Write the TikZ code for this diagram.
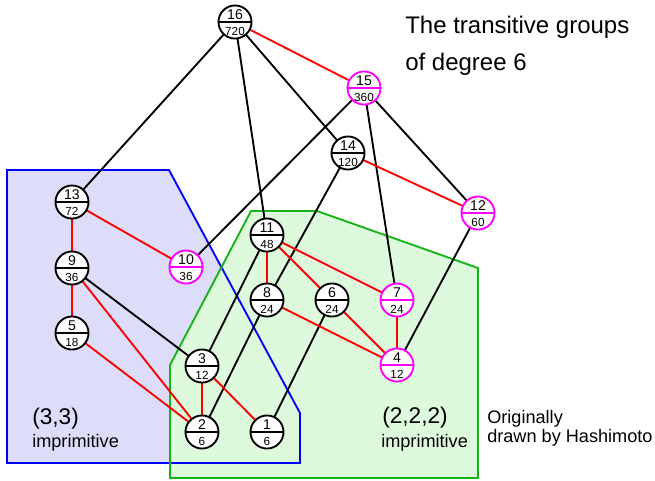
\documentclass[tikz,border=0pt]{standalone}
\usepackage{fontspec}
\setmainfont{Liberation Sans}
\definecolor{mag}{RGB}{255,0,255}
\definecolor{grn}{RGB}{20,180,20}
\definecolor{bfill}{RGB}{221,221,250}
\definecolor{gfill}{RGB}{221,250,221}
\newcommand\gn[6]{%
  \node[gcirc, draw=#6] (#1) at (#2,#3) {};
  \draw[#6, line width=1.4pt] (#1.west) -- (#1.east);
  \node[toplab] at ([yshift=1.6pt]#1.center) {#4};
  \node[botlab] at ([yshift=-10.2pt]#1.center) {#5};
}
\begin{document}
\begin{tikzpicture}[x=0.75pt,y=-0.75pt,
  gcirc/.style={circle, fill=white, line width=1.4pt, minimum size=24.8pt, inner sep=0pt},
  toplab/.style={anchor=base, inner sep=0pt, font=\fontsize{10.6pt}{12pt}\selectfont},
  botlab/.style={anchor=base, inner sep=0pt, font=\fontsize{8.8pt}{10pt}\selectfont},
  blk/.style={black, line width=1.4pt},
  rd/.style={red, line width=1.4pt},
  txt/.style={anchor=base west, inner sep=0pt}]
\useasboundingbox (0,0) rectangle (655,480);
% regions
\fill[bfill] (7,170) -- (169,170) -- (300,413) -- (300,463) -- (7,463) -- cycle;
\fill[gfill] (170,365) -- (251,211) -- (317,211) -- (478,268) -- (478,478) -- (170,478) -- cycle;
\draw[blue, line width=1.4pt] (7,170) -- (169,170) -- (300,413) -- (300,463) -- (7,463) -- cycle;
\draw[grn, line width=1.4pt] (170,365) -- (251,211) -- (317,211) -- (478,268) -- (478,478) -- (170,478) -- cycle;
% node coordinates
\coordinate (c16) at (235,22);
\coordinate (c15) at (364,88);
\coordinate (c14) at (348,153);
\coordinate (c12) at (478,213);
\coordinate (c13) at (72,202);
\coordinate (c11) at (267,235);
\coordinate (c10) at (186,267);
\coordinate (c9) at (72,268);
\coordinate (c8) at (267,300);
\coordinate (c6) at (332,300);
\coordinate (c7) at (397,300);
\coordinate (c5) at (72,333);
\coordinate (c3) at (202,366);
\coordinate (c4) at (397,365);
\coordinate (c2) at (202,432);
\coordinate (c1) at (267,432);
% edges
\draw[blk] (c16) -- (c13);
\draw[blk] (c16) -- (c11);
\draw[blk] (c16) -- (c14);
\draw[blk] (c15) -- (c10);
\draw[blk] (c15) -- (c7);
\draw[blk] (c15) -- (c12);
\draw[blk] (c14) -- (c8);
\draw[blk] (c12) -- (c4);
\draw[blk] (c11) -- (c3);
\draw[blk] (c8) -- (c2);
\draw[blk] (c6) -- (c1);
\draw[blk] (c9) -- (c3);
\draw[rd] (c16) -- (c15);
\draw[rd] (c14) -- (c12);
\draw[rd] (c13) -- (c9);
\draw[rd] (c13) -- (c10);
\draw[rd] (c9) -- (c5);
\draw[rd] (c9) -- (c2);
\draw[rd] (c5) -- (c2);
\draw[rd] (c3) -- (c2);
\draw[rd] (c3) -- (c1);
\draw[rd] (c11) -- (c8);
\draw[rd] (c11) -- (c6);
\draw[rd] (c11) -- (c7);
\draw[rd] (c8) -- (c4);
\draw[rd] (c6) -- (c4);
\draw[rd] (c7) -- (c4);
% nodes
\gn{n16}{235}{22}{16}{720}{black}
\gn{n15}{364}{88}{15}{360}{mag}
\gn{n14}{348}{153}{14}{120}{black}
\gn{n12}{478}{213}{12}{60}{mag}
\gn{n13}{72}{202}{13}{72}{black}
\gn{n11}{267}{235}{11}{48}{black}
\gn{n10}{186}{267}{10}{36}{mag}
\gn{n9}{72}{268}{9}{36}{black}
\gn{n8}{267}{300}{8}{24}{black}
\gn{n6}{332}{300}{6}{24}{black}
\gn{n7}{397}{300}{7}{24}{mag}
\gn{n5}{72}{333}{5}{18}{black}
\gn{n3}{202}{366}{3}{12}{black}
\gn{n4}{397}{365}{4}{12}{mag}
\gn{n2}{202}{432}{2}{6}{black}
\gn{n1}{267}{432}{1}{6}{black}
% texts
\node[txt, font=\fontsize{18pt}{20pt}\selectfont] (t1) at (405,33) {The transitive groups};
\node[txt, font=\fontsize{18pt}{20pt}\selectfont] (t2) at (405,70) {of degree 6};
\node[txt, font=\fontsize{17pt}{18pt}\selectfont] (t3) at (32,424) {(3,3)};
\node[txt, font=\fontsize{13.6pt}{14pt}\selectfont] (t4) at (32,447) {imprimitive};
\node[txt, font=\fontsize{17pt}{18pt}\selectfont] (t5) at (382,423) {(2,2,2)};
\node[txt, font=\fontsize{13.6pt}{14pt}\selectfont] (t6) at (381,447) {imprimitive};
\node[txt, font=\fontsize{13.6pt}{14pt}\selectfont] (t7) at (487,423) {Originally};
\node[txt, font=\fontsize{13.6pt}{14pt}\selectfont] (t8) at (487,442) {drawn by Hashimoto};
\end{tikzpicture}
\end{document}
